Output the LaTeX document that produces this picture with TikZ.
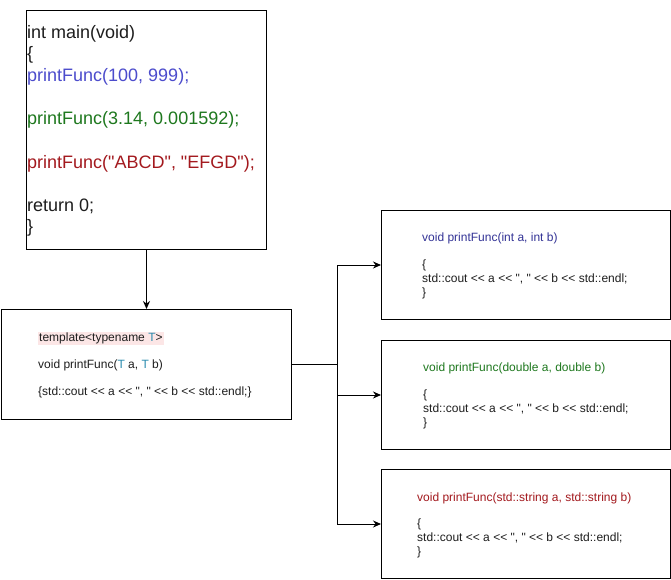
\documentclass[tikz,border=0pt]{standalone}
\usepackage{fontspec}
\setmainfont{Liberation Sans}[Ligatures=TeXOff]
\usetikzlibrary{arrows.meta}
\definecolor{cblue}{RGB}{76,76,204}
\definecolor{cgreen}{RGB}{30,120,30}
\definecolor{cred}{RGB}{163,25,30}
\definecolor{cnavy}{RGB}{51,51,150}
\definecolor{cteal}{RGB}{43,140,175}
\definecolor{cpink}{RGB}{252,230,230}
\definecolor{ctext}{RGB}{30,30,30}
\tikzset{
  codebox/.style={draw=black, line width=1pt, fill=white, anchor=north west, inner sep=0pt},
  bigtxt/.style={anchor=base west, inner sep=0pt, text=ctext,
     font=\fontsize{18}{21.6}\selectfont},
  smalltxt/.style={anchor=base west, inner sep=0pt, text=ctext,
     font=\fontsize{12}{14}\selectfont},
  conn/.style={line width=1pt, draw=black},
  arr/.style={conn, -{Stealth[length=8pt,width=7pt]}}
}
\begin{document}
\begin{tikzpicture}[x=1pt,y=-1pt]
\useasboundingbox (0,0) rectangle (671,580);
% boxes
\node[codebox, minimum width=240, minimum height=239] (main) at (26,10) {};
\node[codebox, minimum width=290, minimum height=110] (tmpl) at (1,309) {};
\node[codebox, minimum width=289, minimum height=109] (fint) at (381,210) {};
\node[codebox, minimum width=289, minimum height=109] (fdbl) at (381,340) {};
\node[codebox, minimum width=289, minimum height=109] (fstr) at (381,469) {};
% main text
\node[bigtxt] (m1) at (27,38.4) {int main(void)};
\node[bigtxt] (m2) at (27,60.0) {\{};
\node[bigtxt, text=cblue] (m3) at (27,81.6) {printFunc(100, 999);};
\node[bigtxt, text=cgreen] (m4) at (27,124.8) {printFunc(3.14, 0.001592);};
\node[bigtxt, text=cred] (m5) at (27,168.0) {printFunc("ABCD", "EFGD");};
\node[bigtxt] (m6) at (27,211.2) {return 0;};
\node[bigtxt] (m7) at (27,232.8) {\}};
% template text
\node[smalltxt, fill=cpink, inner sep=1pt] (t1) at (38,341.5) {template<typename \textcolor{cteal}{T}>};
\node[smalltxt] (t2) at (38,368) {void printFunc(\textcolor{cteal}{T} a, \textcolor{cteal}{T} b)};
\node[smalltxt] (t3) at (38,395) {\{std::cout << a << ", " << b << std::endl;\}};
% int
\node[smalltxt, text=cnavy] (i1) at (422,241) {void printFunc(int a, int b)};
\node[smalltxt] (i2) at (422,268) {\{};
\node[smalltxt] (i3) at (422,282) {std::cout << a << ", " << b << std::endl;};
\node[smalltxt] (i4) at (422,296) {\}};
% double
\node[smalltxt, text=cgreen] (d1) at (423,371) {void printFunc(double a, double b)};
\node[smalltxt] (d2) at (423,398) {\{};
\node[smalltxt] (d3) at (423,412) {std::cout << a << ", " << b << std::endl;};
\node[smalltxt] (d4) at (423,426) {\}};
% string
\node[smalltxt, text=cred] (s1) at (417,501) {void printFunc(std::string a, std::string b)};
\node[smalltxt] (s2) at (417,527) {\{};
\node[smalltxt] (s3) at (417,541) {std::cout << a << ", " << b << std::endl;};
\node[smalltxt] (s4) at (417,555) {\}};
% connectors
\path (tmpl.east) -- ++(45,0) coordinate (junc);
\draw[arr] (main.south) -- (tmpl.north);
\draw[conn] (tmpl.east) -- (junc);
\draw[arr] (junc) |- (fint.west);
\draw[arr] (junc) |- (fdbl.west);
\draw[arr] (junc) |- (fstr.west);
\end{tikzpicture}
\end{document}
